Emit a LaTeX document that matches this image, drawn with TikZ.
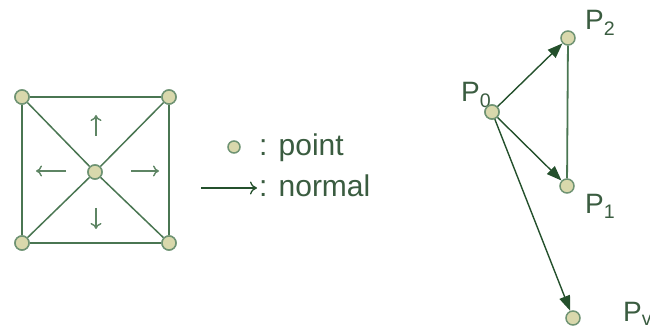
\documentclass[tikz,border=0pt]{standalone}
\usepackage{fontspec}
\setmainfont{Liberation Sans}
\usetikzlibrary{arrows.meta}
\definecolor{edge}{HTML}{4A7652}
\definecolor{dark}{HTML}{24502C}
\definecolor{soft}{HTML}{5E8564}
\definecolor{ring}{HTML}{6F9373}
\definecolor{ptfill}{HTML}{D9D8AC}
\definecolor{txt}{HTML}{3A5C40}
\begin{document}
\begin{tikzpicture}[x=1pt,y=-1pt,
  pt/.style={circle,draw=ring,fill=ptfill,line width=1.5pt,minimum size=14pt,inner sep=0pt},
  sq/.style={draw=edge,line width=2.2pt},
  diag/.style={draw=edge,line width=1.5pt},
  nrm/.style={draw=soft,line width=1.4pt,-{To[length=6pt,width=11pt]}},
  vec/.style={draw=dark,line width=1.4pt,-{Triangle[length=15pt,width=11pt]}},
  lbl/.style={text=txt,font=\fontsize{28}{32}\selectfont,inner sep=0pt,anchor=base west},
  leg/.style={text=txt,font=\fontsize{30}{34}\selectfont,inner sep=0pt,anchor=base west}]
\useasboundingbox (0,0) rectangle (650,328);
% square
\node[pt] (tl) at (22,97) {};
\node[pt] (tr) at (169,97) {};
\node[pt] (bl) at (22,243) {};
\node[pt] (br) at (169,243) {};
\node[pt] (c) at (95,172) {};
\draw[sq] (tl) -- (tr) -- (br) -- (bl) -- (tl);
\draw[diag] (tl) -- (c) -- (br);
\draw[diag] (tr) -- (c) -- (bl);
\node[pt] at (tl) {};
\node[pt] at (tr) {};
\node[pt] at (bl) {};
\node[pt] at (br) {};
\node[pt] at (c) {};
\coordinate (ua) at (96,136); \coordinate (ub) at (96,115);
\coordinate (la) at (66,171); \coordinate (lb) at (36,171);
\coordinate (ra) at (131,171); \coordinate (rb) at (159,171);
\coordinate (da) at (96,208); \coordinate (db) at (96,229);
\draw[nrm] (ua) -- (ub);
\draw[nrm] (la) -- (lb);
\draw[nrm] (ra) -- (rb);
\draw[nrm] (da) -- (db);
% legend
\node[pt,minimum size=12pt] (lp) at (234,147) {};
\node[leg] (lpt) at (259,156) {: point};
\coordinate (na) at (201,188);
\coordinate (nb) at (257,188);
\draw[draw=dark,line width=1.3pt,-{To[length=7pt,width=13pt]}] (na) -- (nb);
\node[leg] (lnm) at (259,197) {: normal};
% triangle
\node[lbl] (l0) at (461,102) {P\textsubscript{0}};
\node[lbl] (l2) at (585,30) {P\textsubscript{2}};
\node[lbl] (l1) at (585,214) {P\textsubscript{1}};
\node[lbl] (lv) at (623,322) {P\textsubscript{v}};
\node[pt] (p0) at (492,112) {};
\node[pt] (p2) at (568,38) {};
\node[pt] (p1) at (567,186) {};
\node[pt] (pv) at (573,318) {};
\draw[draw=edge,line width=1.8pt] (p2) -- (p1);
\draw[vec] (p0) -- (p2);
\draw[vec] (p0) -- (p1);
\draw[vec] (p0) -- (pv);
\node[pt] at (p0) {};
\end{tikzpicture}
\end{document}
